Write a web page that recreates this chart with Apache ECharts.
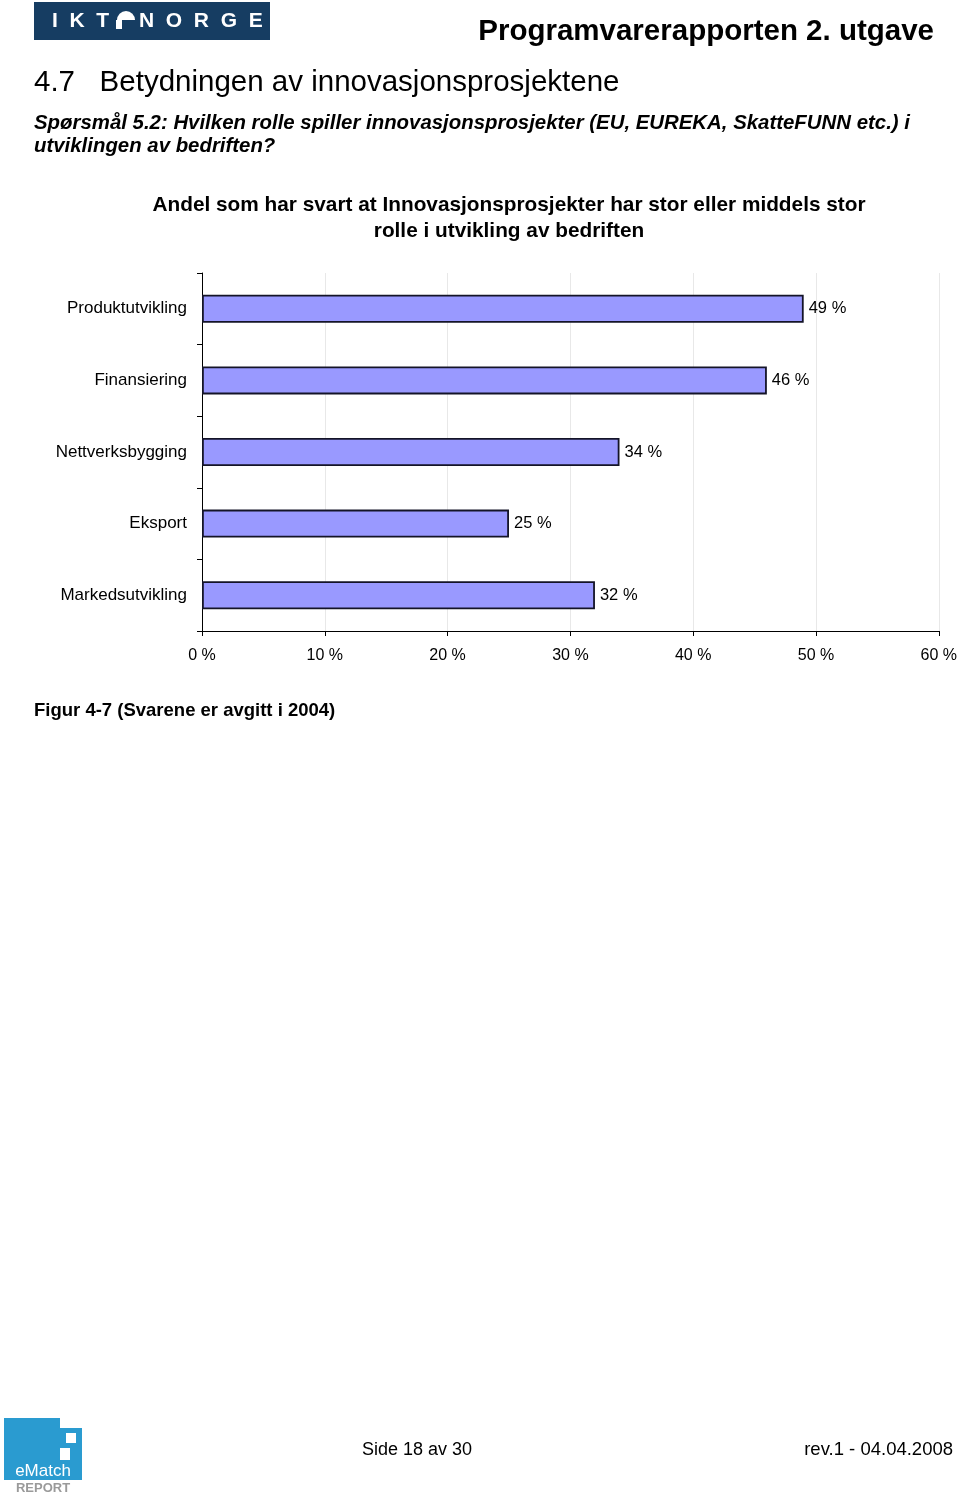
<!DOCTYPE html>
<html>
<head>
<meta charset="utf-8">
<script src="https://cdn.jsdelivr.net/npm/echarts@6/dist/echarts.min.js"></script>
<style>
html,body{margin:0;padding:0;background:#fff;}
#c{width:960px;height:1495px;}
</style>
</head>
<body>
<div id="c"></div>
<script>
var categories = ['Produktutvikling', 'Finansiering', 'Nettverksbygging', 'Eksport', 'Markedsutvikling'];
var values = [49, 46, 34, 25, 32];
var axisMin = 0, axisMax = 60, axisStep = 10;

var chart = echarts.init(document.getElementById('c'), null, {renderer: 'canvas'});
var F = 'Liberation Sans, Arial, sans-serif';

chart.setOption({
  backgroundColor: '#ffffff',
  animation: false,
  textStyle: {fontFamily: F},
  title: {
    text: 'Andel som har svart at Innovasjonsprosjekter har stor eller middels stor\nrolle i utvikling av bedriften',
    left: 504, top: 187, textAlign: 'center',
    textStyle: {fontFamily: F, fontSize: 20.8, fontWeight: 'bold', color: '#000', lineHeight: 26}
  },
  grid: {left: 202, right: 18, top: 273, height: 358, containLabel: false},
  xAxis: {
    type: 'value', min: axisMin, max: axisMax, interval: axisStep,
    axisLine: {show: true, lineStyle: {color: '#000', width: 1}},
    axisTick: {show: true, length: 5, lineStyle: {color: '#000'}},
    axisLabel: {formatter: '{value} %', fontSize: 16, color: '#000', margin: 17, fontFamily: F},
    splitLine: {show: true, lineStyle: {color: '#e8e8e8', width: 1}}
  },
  yAxis: {
    type: 'category', data: categories, inverse: true,
    axisLine: {show: true, lineStyle: {color: '#000', width: 1}},
    axisTick: {show: true, length: 5, alignWithLabel: false, lineStyle: {color: '#000'}},
    axisLabel: {fontSize: 17, color: '#000', margin: 15, fontFamily: F},
    splitLine: {show: false}
  },
  series: [{
    type: 'bar', data: values, barWidth: 28,
    itemStyle: {color: '#9999ff', borderColor: '#141428', borderWidth: 1.8},
    label: {show: true, position: 'right', distance: 5, formatter: '{c} %', fontSize: 16.5, color: '#000', fontFamily: F}
  }],
  graphic: [
    {type: 'rect', shape: {x: 34, y: 2, width: 236, height: 38}, style: {fill: '#163d62'}},
    {type: 'text', x: 52, y: 21, style: {text: 'I  K  T', fontSize: 21, fontWeight: 'bold', fill: '#fff', fontFamily: F, verticalAlign: 'middle'}},
    {type: 'sector', shape: {cx: 126, cy: 20, r0: 0, r: 9, startAngle: Math.PI, endAngle: Math.PI * 2}, style: {fill: '#fff'}},
    {type: 'rect', shape: {x: 116, y: 20, width: 6, height: 9}, style: {fill: '#fff'}},
    {type: 'text', x: 139, y: 21, style: {text: 'N  O  R  G  E', fontSize: 21, fontWeight: 'bold', fill: '#fff', fontFamily: F, verticalAlign: 'middle'}},
    {type: 'text', x: 934, y: 32, style: {text: 'Programvarerapporten 2. utgave', fontSize: 29.5, fontWeight: 'bold', fill: '#000', fontFamily: F, align: 'right', verticalAlign: 'middle'}},
    {type: 'text', x: 34, y: 83, style: {text: '4.7   Betydningen av innovasjonsprosjektene', fontSize: 29.5, fill: '#000', fontFamily: F, verticalAlign: 'middle'}},
    {type: 'text', x: 34, y: 123, style: {text: 'Spørsmål 5.2: Hvilken rolle spiller innovasjonsprosjekter (EU, EUREKA, SkatteFUNN etc.) i', fontSize: 20.4, fontWeight: 'bold', fontStyle: 'italic', fill: '#000', fontFamily: F, verticalAlign: 'middle'}},
    {type: 'text', x: 34, y: 146, style: {text: 'utviklingen av bedriften?', fontSize: 20.4, fontWeight: 'bold', fontStyle: 'italic', fill: '#000', fontFamily: F, verticalAlign: 'middle'}},
    {type: 'text', x: 34, y: 711, style: {text: 'Figur 4-7 (Svarene er avgitt i 2004)', fontSize: 18.5, fontWeight: 'bold', fill: '#000', fontFamily: F, verticalAlign: 'middle'}},
    {type: 'rect', shape: {x: 4, y: 1418, width: 78, height: 62}, style: {fill: '#2a9bd0'}},
    {type: 'rect', shape: {x: 60, y: 1418, width: 22, height: 10}, style: {fill: '#ffffff'}},
    {type: 'rect', shape: {x: 66, y: 1433, width: 10, height: 10}, style: {fill: '#ffffff'}},
    {type: 'rect', shape: {x: 60, y: 1448, width: 10, height: 12}, style: {fill: '#ffffff'}},
    {type: 'text', x: 43, y: 1471, style: {text: 'eMatch', fontSize: 17, fill: '#fff', fontFamily: F, align: 'center', verticalAlign: 'middle'}},
    {type: 'text', x: 43, y: 1488, style: {text: 'REPORT', fontSize: 13, fontWeight: 'bold', fill: '#9a9a9a', fontFamily: F, align: 'center', verticalAlign: 'middle'}},
    {type: 'text', x: 362, y: 1450, style: {text: 'Side 18 av 30', fontSize: 18, fill: '#000', fontFamily: F, verticalAlign: 'middle'}},
    {type: 'text', x: 953, y: 1450, style: {text: 'rev.1 - 04.04.2008', fontSize: 18.5, fill: '#000', fontFamily: F, align: 'right', verticalAlign: 'middle'}}
  ]
});
</script>
</body>
</html>
